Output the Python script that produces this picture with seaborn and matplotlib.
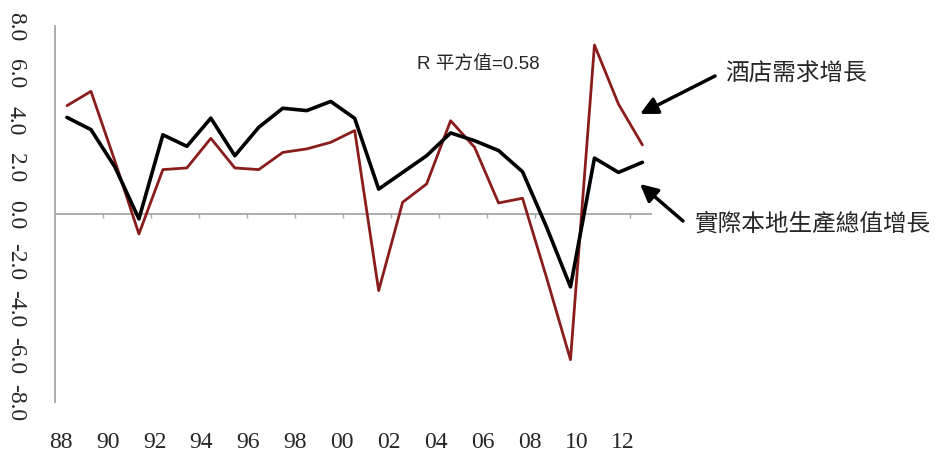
import numpy as np
import pandas as pd
import matplotlib
matplotlib.use("Agg")
import matplotlib.pyplot as plt
import seaborn as sns

# Annual growth rates (%), 1988-2012
years = list(range(1988, 2013))
gdp_growth = [4.11, 3.59, 2.00, -0.21, 3.37, 2.88, 4.08, 2.48, 3.69, 4.50,
              4.40, 4.79, 4.07, 1.06, 1.77, 2.48, 3.45, 3.12, 2.70, 1.80,
              -0.55, -3.10, 2.38, 1.77, 2.20]
hotel_demand = [4.61, 5.22, 2.25, -0.85, 1.89, 1.96, 3.22, 1.96, 1.89, 2.62,
                2.77, 3.05, 3.55, -3.26, 0.50, 1.28, 3.97, 2.84, 0.47, 0.67,
                -2.70, -6.20, 7.19, 4.68, 2.94]

x_labels = ["88", "90", "92", "94", "96", "98", "00", "02", "04", "06", "08", "10", "12"]
y_ticks = [-8.0, -6.0, -4.0, -2.0, 0.0, 2.0, 4.0, 6.0, 8.0]

r_squared_text = "R 平方值=0.58"
hotel_label = "酒店需求增長"
gdp_label = "實際本地生產總值增長"

sns.set_style("white")
plt.rcParams["font.family"] = ["Liberation Serif", "DejaVu Serif"]
plt.rcParams["axes.unicode_minus"] = False

df = pd.DataFrame({"year": years, "gdp": gdp_growth, "hotel": hotel_demand})

W, H = 935, 452
fig = plt.figure(figsize=(W / 100, H / 100), dpi=100)
ax = fig.add_axes([55 / W, 1 - 403 / H, (652 - 55) / W, (403 - 27) / H])

grey = "#a6a6a6"
ax.axhline(0, color=grey, lw=1.3, zorder=1)

sns.lineplot(data=df, x="year", y="hotel", ax=ax, color="#8a1c1c", lw=2.0, zorder=2)
sns.lineplot(data=df, x="year", y="gdp", ax=ax, color="black", lw=2.6, zorder=3)

ax.set_xlim(1987.5, 2012.4)
ax.set_ylim(-8, 8)
ax.set_xlabel("")
ax.set_ylabel("")

for side in ["top", "right", "bottom"]:
    ax.spines[side].set_visible(False)
ax.spines["left"].set_color(grey)
ax.spines["left"].set_linewidth(1.3)

# category labels along the bottom
label_pos = np.linspace(1987.75, 2011.2, len(x_labels))
ax.set_xticks(label_pos)
ax.set_xticklabels(x_labels, fontsize=17)
ax.tick_params(axis="x", length=0, pad=21)

ax.set_yticks(y_ticks)
ax.set_yticklabels([f"{v:.1f}" for v in y_ticks], rotation=-90, fontsize=17,
                   va="center")
ax.tick_params(axis="y", length=3, width=1, color=grey, pad=18)

# tick marks on the zero line, between category pairs
zero_axis = ax.secondary_xaxis(0.5)
zero_axis.set_xticks(np.arange(1989.5, 2012, 2))
zero_axis.set_xticklabels([])
zero_axis.tick_params(axis="x", direction="in", length=3, width=1, color=grey)
for sp in zero_axis.spines.values():
    sp.set_visible(False)

cjk = ["Noto Sans CJK TC", "DejaVu Sans"]
fig.text(417 / W, 1 - 65 / H, r_squared_text, fontsize=13.5,
         family=["Liberation Sans", "Noto Sans CJK TC"], va="center", ha="left")
fig.text(725 / W, 1 - 74 / H, hotel_label, fontsize=17, family=cjk,
         weight="light", va="center", ha="left")
fig.text(695 / W, 1 - 224 / H, gdp_label, fontsize=17, family=cjk,
         weight="light", va="center", ha="left")

arrow = dict(arrowstyle="-|>", mutation_scale=26, lw=2.5, color="black",
             shrinkA=0, shrinkB=0)
ax.annotate("", xy=(640, H - 115), xytext=(715, H - 77),
            xycoords="figure pixels", textcoords="figure pixels",
            arrowprops=arrow)
ax.annotate("", xy=(640, H - 185), xytext=(683, H - 222),
            xycoords="figure pixels", textcoords="figure pixels",
            arrowprops=arrow)

fig.savefig("out.png", dpi=100)
